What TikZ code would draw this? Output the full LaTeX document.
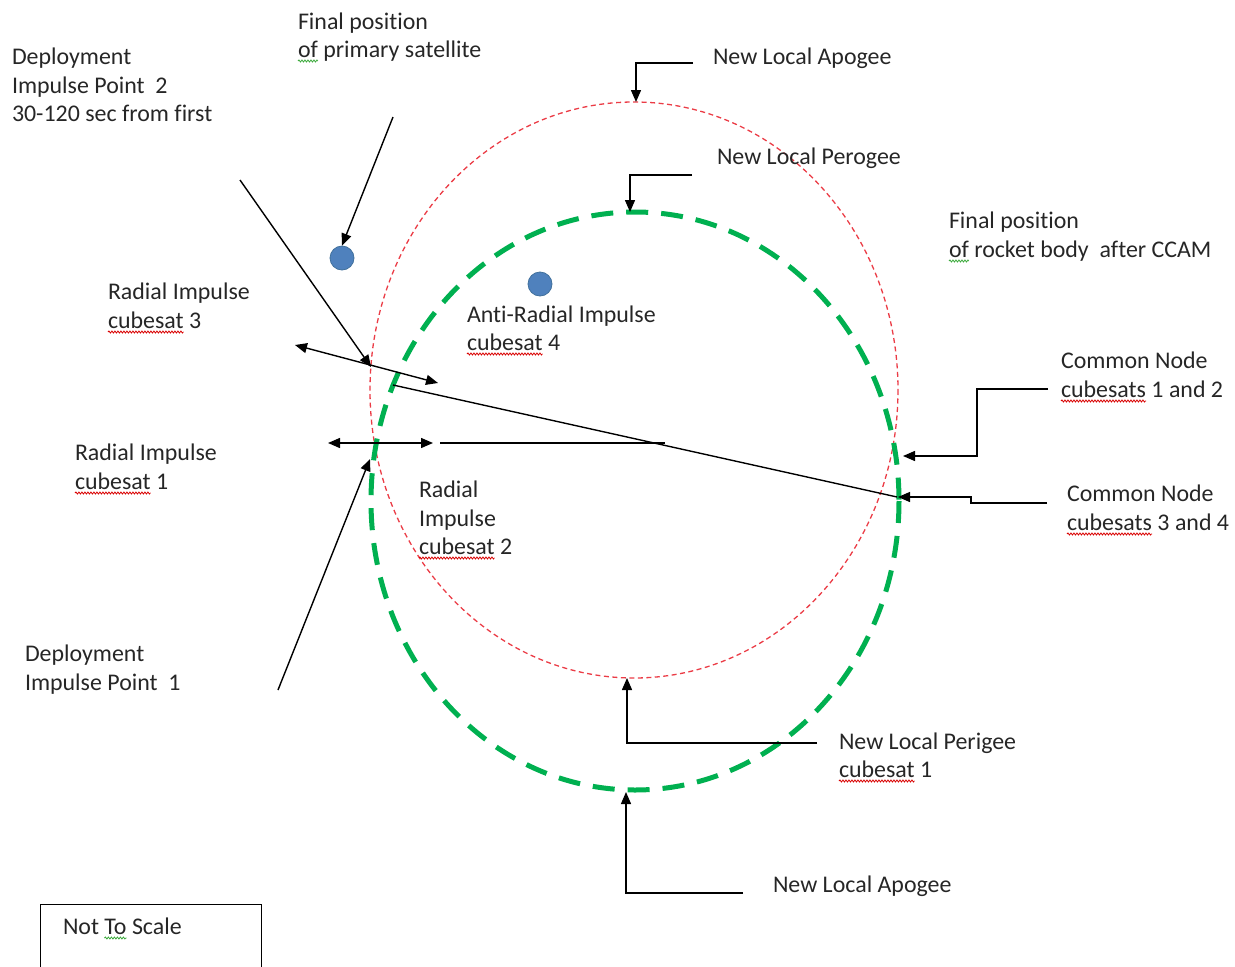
\documentclass[tikz,border=0pt]{standalone}
\usepackage{fontspec}
\setmainfont{Carlito}[Ligatures={CommonOff}]
\usetikzlibrary{arrows.meta,decorations.pathmorphing}
\definecolor{txtc}{HTML}{262626}
\definecolor{orbred}{RGB}{235,60,70}
\definecolor{orbgreen}{HTML}{00B050}
\definecolor{dotfill}{HTML}{4F81BD}
\definecolor{dotline}{HTML}{41719C}
\definecolor{sqgreen}{RGB}{60,170,60}
\tikzset{
  txt/.style={anchor=base west, inner sep=0pt, outer sep=0pt, text=txtc, font=\fontsize{24}{29}\selectfont},
  conn/.style={draw=black, line width=1.4bp},
  tipend/.style={-{Triangle[length=12bp,width=10bp]}},
  tipboth/.style={{Triangle[length=12bp,width=10bp]}-{Triangle[length=12bp,width=10bp]}},
  redorbit/.style={draw=orbred, line width=1.3bp, dash pattern=on 5bp off 3.5bp},
  greenorbit/.style={draw=orbgreen, line width=5bp, dash pattern=on 22bp off 13bp},
  sat/.style={circle, fill=dotfill, draw=dotline, line width=0.8bp, minimum size=24bp, inner sep=0pt},
  squig/.style={draw=red!85!black, line width=0.8bp, decorate, decoration={snake, amplitude=1bp, segment length=3bp}},
  squigg/.style={squig, draw=sqgreen},
}
\begin{document}
\begin{tikzpicture}[x=1bp,y=-1bp]
\useasboundingbox (0,0) rectangle (1235,967);
\clip (0,0) rectangle (1235,967);

% orbits
\draw[redorbit] (634,390) ellipse [x radius=264, y radius=288];
\draw[greenorbit] (635,501) ellipse [x radius=264, y radius=289];

% satellites
\node[sat] (prim) at (342,258) {};
\node[sat] (cs4) at (540,284) {};

% texts
\node[txt] (dp2a) at (12,64) {Deployment};
\node[txt] (dp2b) at (12,93) {Impulse Point\ \ 2};
\node[txt] (dp2c) at (12,121) {30-120 sec from first};

\node[txt] (fpa) at (298,29) {Final position};
\node[txt] (fpb1) at (298,57) {of};
\node[txt] (fpb2) at (fpb1.base east) {\ primary satellite};

\node[txt] (nla1) at (713,64) {New Local Apogee};
\node[txt] (nlp) at (717,164) {New Local Perogee};

\node[txt] (frba) at (949,228) {Final position};
\node[txt] (frbb1) at (949,257) {of};
\node[txt] (frbb2) at (frbb1.base east) {\ rocket body\ \ after CCAM};

\node[txt] (ri3a) at (108,299) {Radial Impulse};
\node[txt] (ri3b1) at (108,328) {cubesat};
\node[txt] (ri3b2) at (ri3b1.base east) {\ 3};

\node[txt] (ar4a) at (467,322) {Anti-Radial Impulse};
\node[txt] (ar4b1) at (467,350) {cubesat};
\node[txt] (ar4b2) at (ar4b1.base east) {\ 4};

\node[txt] (cn12a) at (1061,368) {Common Node};
\node[txt] (cn12b1) at (1061,397) {cubesats};
\node[txt] (cn12b2) at (cn12b1.base east) {\ 1 and 2};

\node[txt] (ri1a) at (75,460) {Radial Impulse};
\node[txt] (ri1b1) at (75,489) {cubesat};
\node[txt] (ri1b2) at (ri1b1.base east) {\ 1};

\node[txt] (ri2a) at (419,497) {Radial};
\node[txt] (ri2b) at (419,526) {Impulse};
\node[txt] (ri2c1) at (419,554) {cubesat};
\node[txt] (ri2c2) at (ri2c1.base east) {\ 2};

\node[txt] (cn34a) at (1067,501) {Common Node};
\node[txt] (cn34b1) at (1067,530) {cubesats};
\node[txt] (cn34b2) at (cn34b1.base east) {\ 3 and 4};

\node[txt] (dp1a) at (25,661) {Deployment};
\node[txt] (dp1b) at (25,690) {Impulse Point\ \ 1};

\node[txt] (nlp1a) at (839,749) {New Local Perigee};
\node[txt] (nlp1b1) at (839,777) {cubesat};
\node[txt] (nlp1b2) at (nlp1b1.base east) {\ 1};

\node[txt] (nla2) at (773,892) {New Local Apogee};

\node[txt] (nts1) at (63,934) {Not\ \mbox{}};
\node[txt] (nts2) at (nts1.base east) {To};
\node[txt] (nts3) at (nts2.base east) {\ Scale};
\node[draw=black, line width=1.4bp, minimum width=221bp, minimum height=80bp, inner sep=0pt, anchor=north west] (ntsbox) at (40,904) {};

% squiggly underlines
\foreach \w in {ri3b1,ar4b1,cn12b1,ri1b1,ri2c1,cn34b1,nlp1b1}{
  \draw[squig] ([yshift=-4bp]\w.base west) -- ([yshift=-4bp]\w.base east);
}
\foreach \w in {fpb1,frbb1,nts2}{
  \draw[squigg] ([yshift=-4bp]\w.base west) -- ([yshift=-4bp]\w.base east);
}

% coordinates
\coordinate (dp2s) at (240,180);
\coordinate (dp2t) at (371,367);
\coordinate (dp1s) at (278,690);
\coordinate (dp1t) at (370,459);
\coordinate (fps) at (393,117);
\coordinate (r3l) at (295,345);
\coordinate (r3r) at (438,383);
\coordinate (r1l) at (328,443);
\coordinate (r1r) at (433,443);
\coordinate (hls) at (440,443);
\coordinate (hle) at (665,443);
\coordinate (lds) at (393,385);
\coordinate (ldt) at (897,497);
\coordinate (a1s) at (693,63);
\coordinate (a1t) at (636,102);
\coordinate (p1s) at (692,175);
\coordinate (p1t) at (630,212);
\coordinate (c12s) at (1048,389);
\coordinate (c12m) at (977,456);
\coordinate (c12t) at (903,456);
\coordinate (c34s) at (1047,503);
\coordinate (c34m) at (971,497);
\coordinate (c34t) at (898,497);
\coordinate (pgs) at (817,743);
\coordinate (pgt) at (627,678);
\coordinate (a2s) at (743,893);
\coordinate (a2t) at (626,792);

% connectors
\draw[conn,tipend] (dp2s) -- (dp2t);
\draw[conn,tipend] (dp1s) -- (dp1t);
\draw[conn,tipend] (fps) -- (prim.north);
\draw[conn,tipboth] (r3l) -- (r3r);
\draw[conn,tipboth] (r1l) -- (r1r);
\draw[conn] (hls) -- (hle);
\draw[conn] (lds) -- (ldt);
\draw[conn,tipend] (a1s) -| (a1t);
\draw[conn,tipend] (p1s) -| (p1t);
\draw[conn,tipend] (c12s) -| (c12m) -- (c12t);
\draw[conn,tipend] (c34s) -| (c34m) -- (c34t);
\draw[conn,tipend] (pgs) -| (pgt);
\draw[conn,tipend] (a2s) -| (a2t);
\end{tikzpicture}
\end{document}
